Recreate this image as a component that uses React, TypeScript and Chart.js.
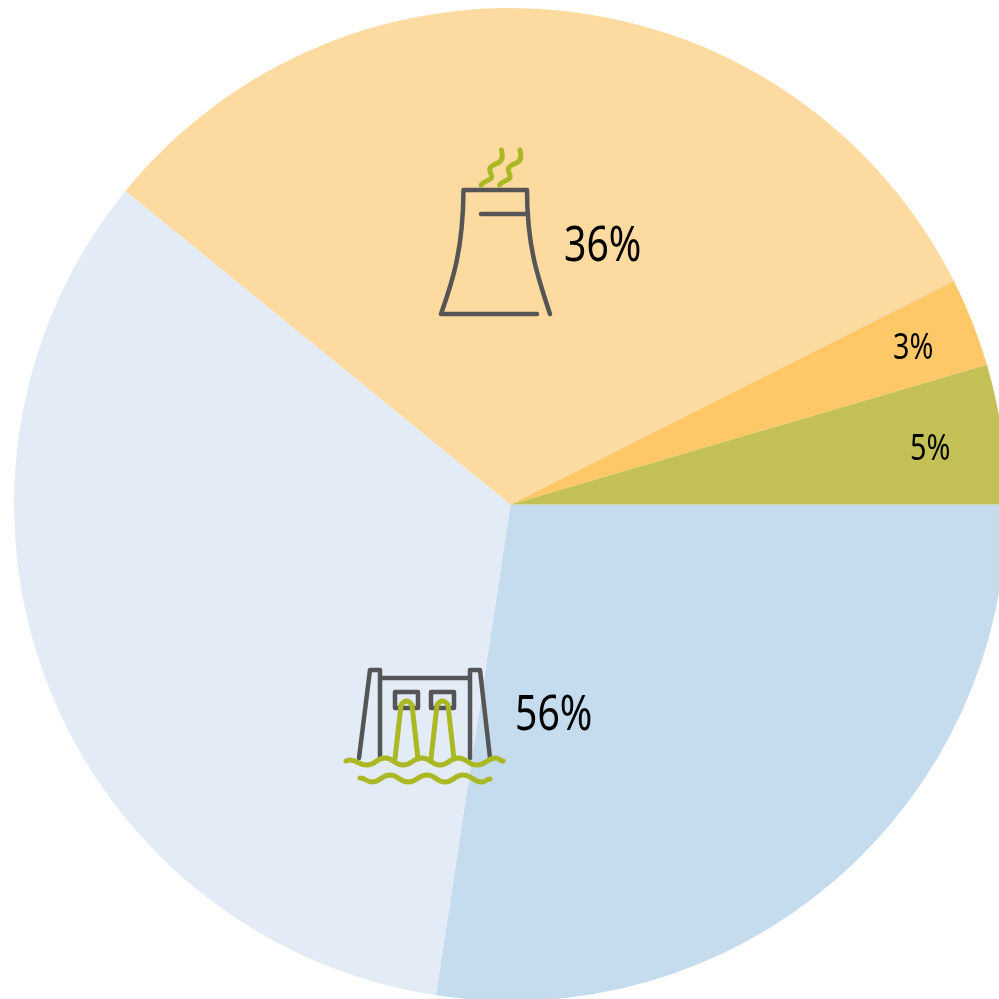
import React, { useEffect, useRef } from "react";
import { Chart, registerables } from "chart.js";

Chart.register(...registerables);

const categories = ["Hydro A", "Hydro B", "Thermal", "Other thermal", "Renewables"];
const shares = [27.4, 33.48, 31.69, 2.89, 4.54];
const sliceColors = ["#C5DBEE", "#E3EBF6", "#FDDA9F", "#FEC868", "#C3C155"];
const callouts = ["56%", "36%", "3%", "5%"];

const DARK = "#555555";
const GREEN = "#A9B823";

function poly(ctx: CanvasRenderingContext2D, run: () => void, color: string, width: number) {
  ctx.beginPath();
  run();
  ctx.strokeStyle = color;
  ctx.lineWidth = width;
  ctx.lineCap = "round";
  ctx.lineJoin = "round";
  ctx.stroke();
}

function wave(ctx: CanvasRenderingContext2D, startX: number, startY: number, pts: [number, number][]) {
  ctx.moveTo(startX, startY);
  let px = startX;
  let py = startY;
  for (const [x, y] of pts) {
    const mx = (px + x) / 2;
    ctx.bezierCurveTo(mx, py, mx, y, x, y);
    px = x;
    py = y;
  }
}

function drawTower(ctx: CanvasRenderingContext2D) {
  poly(ctx, () => {
    ctx.moveTo(537, 314);
    ctx.lineTo(441, 314);
    ctx.bezierCurveTo(453, 280, 463, 250, 463.5, 190);
    ctx.lineTo(527, 190);
    ctx.bezierCurveTo(527, 245, 537, 275, 550, 314);
    ctx.moveTo(481, 214);
    ctx.lineTo(527, 214);
  }, DARK, 4.5);
  for (const dx of [0, 18.5]) {
    poly(ctx, () => {
      ctx.moveTo(481 + dx, 185);
      ctx.bezierCurveTo(486 + dx, 179, 494 + dx, 181, 491 + dx, 174);
      ctx.bezierCurveTo(487 + dx, 166, 494 + dx, 165, 498 + dx, 163);
      ctx.bezierCurveTo(503 + dx, 160, 503 + dx, 156, 501.5 + dx, 150);
    }, GREEN, 5);
  }
}

function drawDam(ctx: CanvasRenderingContext2D) {
  poly(ctx, () => {
    ctx.moveTo(359, 758);
    ctx.lineTo(370, 670);
    ctx.lineTo(380, 670);
    ctx.lineTo(380, 758);
    ctx.moveTo(380, 678);
    ctx.lineTo(470, 678);
    ctx.moveTo(470, 758);
    ctx.lineTo(470, 670);
    ctx.lineTo(480, 670);
    ctx.lineTo(490, 758);
    ctx.rect(395, 692, 23, 16);
    ctx.rect(431, 692, 23, 16);
  }, DARK, 4.5);
  for (const dx of [0, 36]) {
    poly(ctx, () => {
      ctx.moveTo(395 + dx, 759);
      ctx.lineTo(401 + dx, 705);
      ctx.quadraticCurveTo(406.5 + dx, 697, 412 + dx, 705);
      ctx.lineTo(418 + dx, 759);
    }, GREEN, 5);
  }
  poly(ctx, () => {
    wave(ctx, 346, 761, [[349, 760], [367, 765], [385, 758], [403, 765], [422, 758], [440, 765], [458, 758], [477, 765], [496, 758], [503, 761]]);
    wave(ctx, 360, 778, [[372, 782], [390, 775], [408, 782], [427, 775], [445, 782], [463, 775], [482, 782], [490, 779]]);
  }, GREEN, 5);
}

const artwork = {
  id: "artwork",
  afterDatasetsDraw(chart: Chart) {
    const ctx = chart.ctx;
    ctx.save();
    // canvas sits at (14, 8) in the page; artwork is measured in page pixels
    ctx.translate(-14, -8);
    drawTower(ctx);
    drawDam(ctx);
    ctx.fillStyle = "#000";
    ctx.textBaseline = "alphabetic";
    ctx.textAlign = "left";
    const big = '49px "Noto Sans"';
    const small = '36px "Noto Sans"';
    const place = (t: string, x: number, y: number, font: string, sx: number) => {
      ctx.save();
      ctx.font = font;
      ctx.translate(x, y);
      ctx.scale(sx, 1);
      ctx.fillText(t, 0, 0);
      ctx.restore();
    };
    place(callouts[0], 515, 730, big, 0.8);
    place(callouts[1], 564, 261, big, 0.8);
    place(callouts[2], 893, 359, small, 0.8);
    place(callouts[3], 910, 460, small, 0.8);
    ctx.restore();
  },
};

export default function App() {
  const ref = useRef<HTMLCanvasElement>(null);
  useEffect(() => {
    if (!ref.current) return;
    const chart = new Chart(ref.current, {
      type: "pie",
      data: {
        labels: categories,
        datasets: [{ data: shares, backgroundColor: sliceColors, borderWidth: 0 }],
      },
      options: {
        animation: false,
        responsive: false,
        rotation: 90,
        layout: { padding: 0 },
        plugins: { legend: { display: false }, tooltip: { enabled: false } },
      },
      plugins: [artwork],
    });
    return () => chart.destroy();
  }, []);
  return (
    <div style={{ position: "fixed", left: 0, top: 0, width: 999, height: 999, overflow: "hidden", background: "#fff" }}>
      <canvas ref={ref} width={993} height={993} style={{ position: "absolute", left: 14, top: 8, width: 993, height: 993 }} />
    </div>
  );
}
